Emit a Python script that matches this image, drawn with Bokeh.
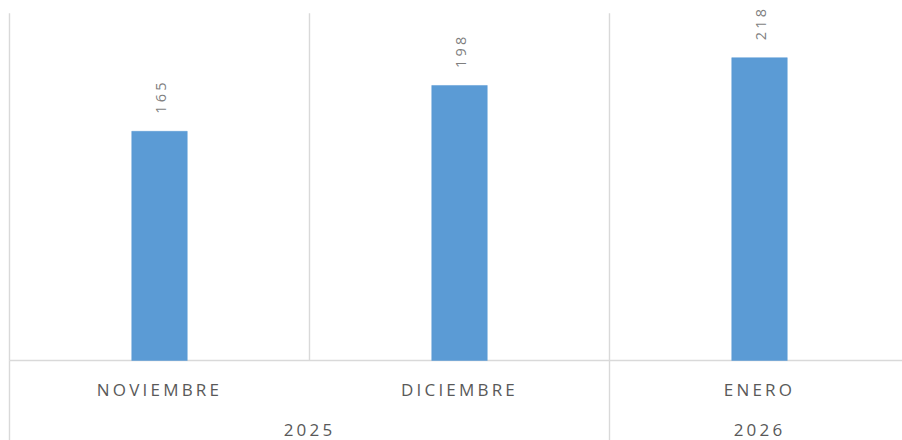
import numpy as np
from bokeh.plotting import figure
from bokeh.models import Range1d, ColumnDataSource, InlineStyleSheet
from bokeh.core.properties import value
from bokeh.embed import file_html
from bokeh.resources import INLINE

# ---- data ----
months = ["NOVIEMBRE", "DICIEMBRE", "ENERO"]
years = ["2025", "2025", "2026"]
values = [165, 198, 218]
y_max = 250

W, H = 902, 440
px_per_cat = 300.0
px_per_unit = 1.389
left_px = 9.0
base_px = 360.0
spacing = 3.2

x_start = -left_px / px_per_cat
x_end = x_start + W / px_per_cat
y_end = base_px / px_per_unit
y_start = -(H - base_px) / px_per_unit

p = figure(width=W, height=H, output_backend="svg", toolbar_location=None,
           x_range=Range1d(x_start, x_end), y_range=Range1d(y_start, y_end),
           min_border=0, outline_line_color=None, background_fill_color="white",
           border_fill_color="white")
p.xaxis.visible = False
p.yaxis.visible = False
p.grid.visible = False
p.stylesheets = [InlineStyleSheet(css=":host { letter-spacing: %.1fpx; }" % spacing)]

n = len(months)
centers = [i + 0.5 for i in range(n)]
grid_col = "#d9d9d9"

# vertical gridlines at category boundaries (plot area)
bx = list(range(n + 1))
p.segment(x0=bx, y0=[0] * len(bx), x1=bx, y1=[y_max] * len(bx),
          line_color=grid_col, line_width=1.4)
# baseline
p.segment(x0=[0], y0=[0], x1=[n], y1=[0], line_color=grid_col, line_width=1.4)

# group separators below axis (between year groups)
sep = [0]
for i in range(1, n):
    if years[i] != years[i - 1]:
        sep.append(i)
sep.append(n)
p.segment(x0=sep, y0=[0] * len(sep), x1=sep, y1=[y_start] * len(sep),
          line_color=grid_col, line_width=1.4)

# bars
src = ColumnDataSource(dict(x=centers, top=values, lab=[str(v) for v in values]))
p.vbar(x="x", top="top", bottom=0, width=0.185, source=src,
       fill_color="#5b9bd5", line_color="#5b9bd5", line_width=0.5)

# value labels, rotated
p.text(x="x", y="top", text="lab", source=src, angle=np.pi / 2,
       text_align="left", text_baseline="middle", y_offset=-17.5, x_offset=1.5,
       text_font=value("Open Sans"), text_font_size="14.5px", text_color="#7f7f7f")

# month labels (offset compensates for letter spacing)
msrc = ColumnDataSource(dict(x=centers, y=[0] * n, t=months,
                             xo=[-len(m) * spacing / 2 for m in months]))
p.text(x="x", y="y", text="t", source=msrc, x_offset="xo", y_offset=29,
       text_align="center", text_baseline="middle",
       text_font=value("Open Sans"), text_font_size="17px", text_color="#595959")

# year labels, centered over groups
gx, gl = [], []
for a, b in zip(sep[:-1], sep[1:]):
    gx.append((a + b) / 2.0)
    gl.append(years[a])
ysrc = ColumnDataSource(dict(x=gx, y=[0] * len(gx), t=gl,
                             xo=[-len(g) * spacing / 2 for g in gl]))
p.text(x="x", y="y", text="t", source=ysrc, x_offset="xo", y_offset=69,
       text_align="center", text_baseline="middle",
       text_font=value("Open Sans"), text_font_size="17px", text_color="#595959")

open("out.html", "w").write(file_html(p, INLINE))
